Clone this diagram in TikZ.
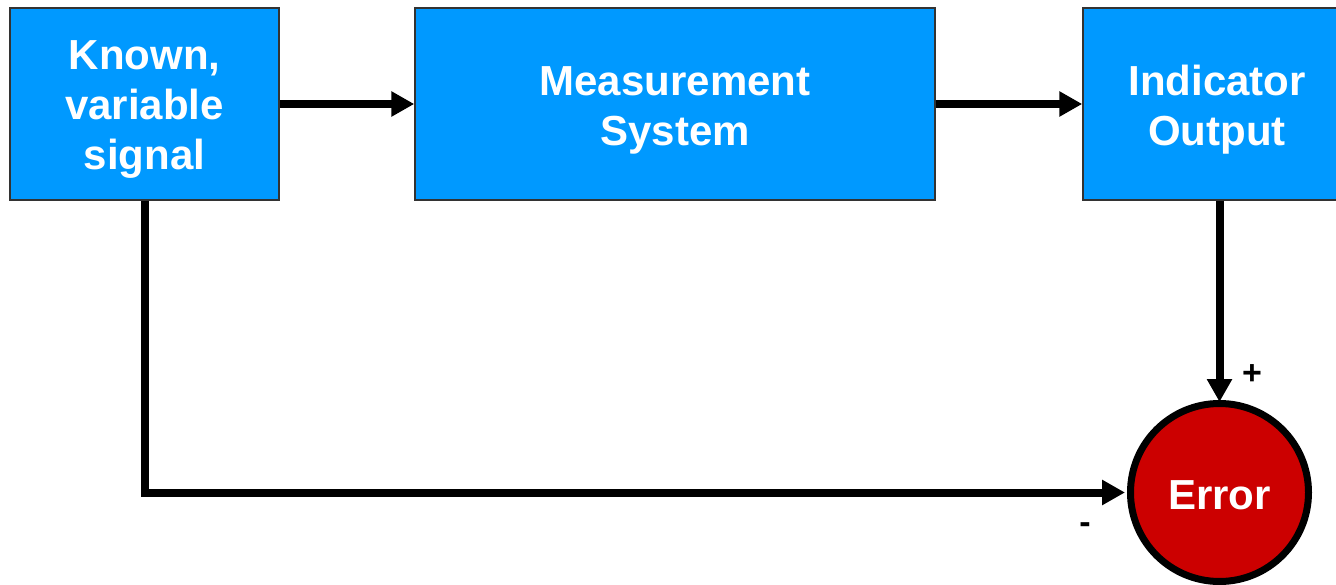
\documentclass[tikz,border=0pt]{standalone}
\usepackage{fontspec}
\setmainfont{Liberation Sans}
\usetikzlibrary{arrows.meta}
\definecolor{boxblue}{HTML}{0099FF}
\definecolor{errred}{HTML}{CC0000}
\begin{document}
\begin{tikzpicture}[x=1pt,y=-1pt,
  blk/.style={draw=black!80,line width=1.5pt,fill=boxblue,inner sep=0pt,anchor=center},
  blktxt/.style={text=white,align=center,yshift=-6pt,
    font=\fontsize{42}{50}\selectfont\bfseries,inner sep=0pt},
  arr/.style={line width=8pt,-{Triangle[length=23pt,width=24pt]}},
  sgn/.style={font=\fontsize{34}{34}\selectfont\bfseries,inner sep=0pt}]
\useasboundingbox (0,0) rectangle (1336,585);
\begin{scope}
\clip (0,0) rectangle (1336,585);
\node[blk,minimum width=269pt,minimum height=192pt,
  label={[blktxt]center:Known,\\variable\\signal}] (k) at (144.5,104) {};
\node[blk,minimum width=520pt,minimum height=192pt,
  label={[blktxt]center:Measurement\\System}] (m) at (675,104) {};
\node[blk,minimum width=268pt,minimum height=192pt,
  label={[blktxt]center:Indicator\\Output}] (o) at (1217,104) {};
\node[circle,draw=black,line width=7pt,fill=errred,minimum size=178pt,inner sep=0pt,
  label={[blktxt,yshift=3pt]center:Error}] (e) at (1219.5,492.5) {};
\draw[arr] (k.east) -- (m.west);
\draw[arr] (m.east) -- (o.west);
\draw[arr] (o.south -| e.north) -- ([yshift=-2pt]e.north);
\draw[arr] (k.south) |- ([xshift=-2pt]e.west);
\node[sgn] (plus) at (1252,375) {+};
\node[sgn] (minus) at (1085,528) {-};
\end{scope}
\end{tikzpicture}
\end{document}
